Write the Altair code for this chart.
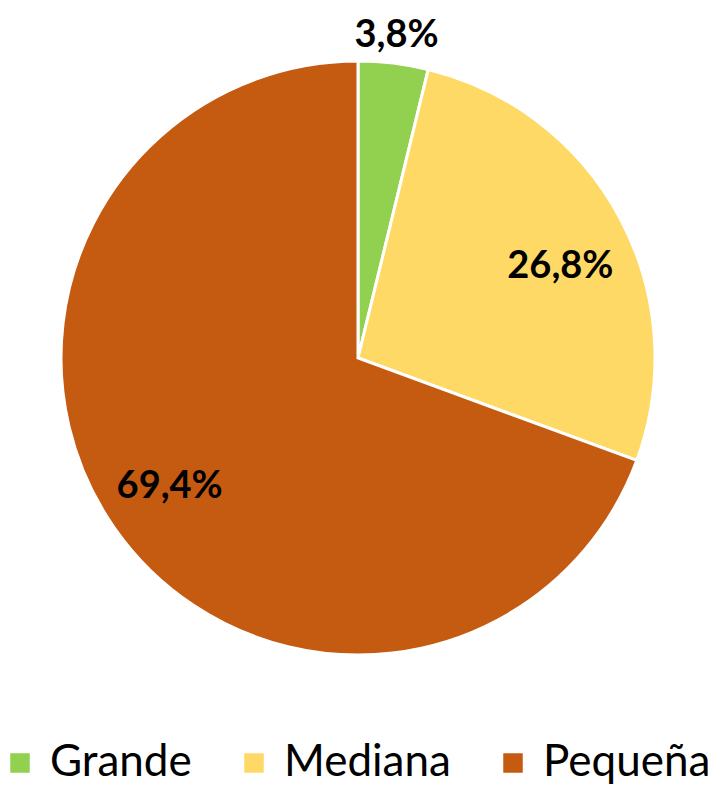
import altair as alt
import pandas as pd

categorias = ["Grande", "Mediana", "Pequeña"]
porcentajes = [3.8, 26.8, 69.4]
etiquetas = ["3,8%", "26,8%", "69,4%"]
orden = [1, 2, 3]
colores = ["#92D050", "#FFD966", "#C55A11"]

df = pd.DataFrame({"cat": categorias, "pct": porcentajes, "lab": etiquetas, "ord": orden})

cx, cy, R = 350, 350, 297

base = alt.Chart(df).encode(
    theta=alt.Theta("pct:Q", stack=True),
    order=alt.Order("ord:Q"),
)

arcs = base.mark_arc(stroke="white", strokeWidth=3).encode(
    color=alt.Color(
        "cat:N",
        scale=alt.Scale(domain=categorias, range=colores),
        sort=categorias,
        legend=alt.Legend(
            title=None,
            orient="none",
            direction="horizontal",
            legendX=-10,
            legendY=733,
            padding=0,
            symbolType="square",
            symbolSize=380,
            symbolStrokeWidth=0,
            labelFont="Lato",
            labelFontSize=44,
            labelColor="black",
            labelOffset=8,
            columnPadding=40,
            labelLimit=300,
        ),
    ),
    x=alt.value(cx),
    y=alt.value(cy),
    radius=alt.value(R),
)


def label_layer(cat, radius, dx=0, dy=0):
    return base.mark_text(
        font="Lato", fontWeight="bold", fontSize=38, color="black", dx=dx, dy=dy
    ).encode(
        text=alt.condition(f"datum.cat == '{cat}'", alt.Text("lab:N"), alt.value("")),
        x=alt.value(cx),
        y=alt.value(cy),
        radius=alt.value(radius),
    )


chart = (
    alt.layer(
        arcs,
        label_layer("Grande", 324),
        label_layer("Mediana", 226, dx=3, dy=15),
        label_layer("Pequeña", 226, dx=-3),
    )
    .properties(width=712, height=777, autosize=alt.AutoSizeParams(type="none"), padding=0)
    .configure_view(stroke=None)
)

chart.save("out.html", embed_options={"renderer": "svg", "actions": False})
